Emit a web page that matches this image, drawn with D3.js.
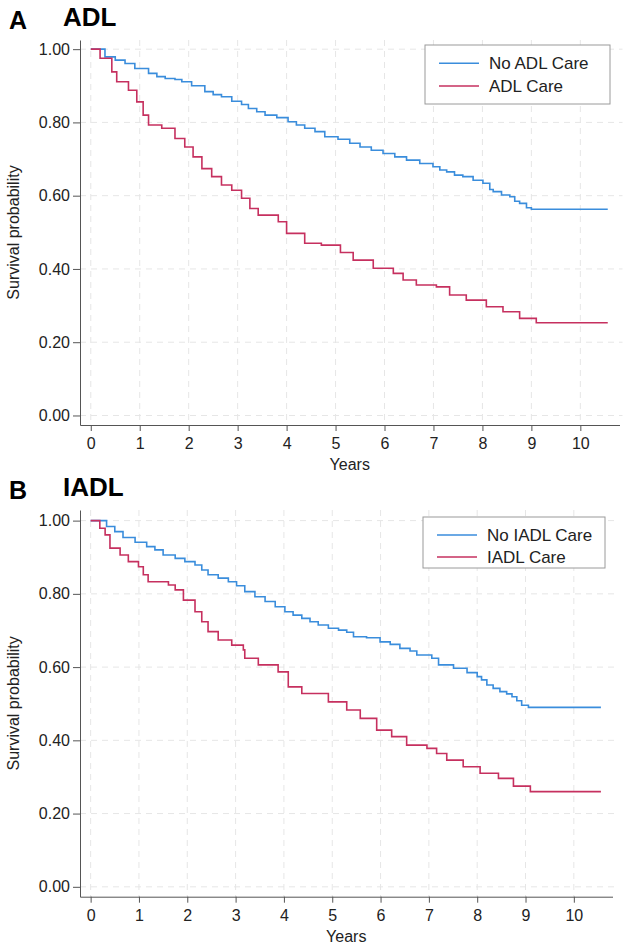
<!DOCTYPE html>
<html>
<head>
<meta charset="utf-8">
<script src="https://cdn.jsdelivr.net/npm/d3@7"></script>
<style>
  body { margin: 0; background: #fff; }
  svg { font-family: "Liberation Sans", Arial, sans-serif; }
  .grid line { stroke: #e6e6e6; stroke-dasharray: 6 5; stroke-width: 1; }
  .axis .domain, .axis line { stroke: #555; }
  .axis text { fill: #222; font-size: 16px; }
  .axisTitle { fill: #222; font-size: 16px; }
  .legText { fill: #222; font-size: 17px; }
</style>
</head>
<body>
<div id="chart"></div>
<script>
/* global d3 */

// Kaplan-Meier steps: [years, survival]
const adlNoCare = [
  [0, 1], [0.29, 0.979], [0.5, 0.97], [0.7, 0.961], [0.9, 0.947], [1.18, 0.934],
  [1.35, 0.925], [1.52, 0.92], [1.72, 0.917], [1.86, 0.911], [2.06, 0.9],
  [2.33, 0.884], [2.5, 0.876], [2.67, 0.87], [2.88, 0.858], [3.08, 0.849],
  [3.22, 0.838], [3.39, 0.829], [3.56, 0.82], [3.8, 0.813], [4.03, 0.802],
  [4.2, 0.793], [4.37, 0.784], [4.58, 0.775], [4.78, 0.761], [5.05, 0.754],
  [5.29, 0.743], [5.5, 0.733], [5.73, 0.724], [5.97, 0.715], [6.21, 0.706],
  [6.45, 0.697], [6.72, 0.688], [6.99, 0.679], [7.13, 0.67], [7.27, 0.665],
  [7.43, 0.656], [7.6, 0.652], [7.81, 0.642], [8.01, 0.634], [8.15, 0.617],
  [8.22, 0.611], [8.39, 0.602], [8.56, 0.597], [8.66, 0.585], [8.76, 0.579],
  [8.9, 0.567], [9.0, 0.563], [10.56, 0.563]
]
const adlCare = [
  [0, 1], [0.19, 0.975], [0.43, 0.938], [0.53, 0.911], [0.77, 0.888], [0.94, 0.856],
  [1.07, 0.82], [1.18, 0.793], [1.45, 0.784], [1.72, 0.756], [1.92, 0.733],
  [2.09, 0.706], [2.27, 0.674], [2.47, 0.652], [2.67, 0.629], [2.88, 0.615],
  [3.08, 0.593], [3.25, 0.565], [3.42, 0.547], [3.83, 0.529], [4.0, 0.497],
  [4.37, 0.47], [4.71, 0.465], [5.1, 0.445], [5.36, 0.424], [5.77, 0.402],
  [6.18, 0.388], [6.38, 0.37], [6.65, 0.356], [7.06, 0.351], [7.33, 0.329],
  [7.67, 0.315], [8.08, 0.297], [8.42, 0.283], [8.76, 0.265], [9.1, 0.253], [10.56, 0.253]
]
const iadlNoCare = [
  [0, 1], [0.33, 0.984], [0.5, 0.97], [0.67, 0.954], [0.92, 0.941], [1.16, 0.929],
  [1.33, 0.92], [1.5, 0.906], [1.75, 0.897], [1.95, 0.888], [2.16, 0.879],
  [2.3, 0.865], [2.43, 0.852], [2.64, 0.843], [2.85, 0.833], [3.02, 0.822],
  [3.19, 0.806], [3.4, 0.792], [3.61, 0.779], [3.82, 0.765], [4.02, 0.751],
  [4.19, 0.742], [4.37, 0.733], [4.54, 0.724], [4.71, 0.715], [4.92, 0.706],
  [5.13, 0.701], [5.3, 0.695], [5.44, 0.683], [5.71, 0.68], [5.99, 0.669],
  [6.2, 0.662], [6.4, 0.651], [6.61, 0.644], [6.75, 0.633], [7.06, 0.624],
  [7.2, 0.606], [7.51, 0.597], [7.79, 0.585], [8.0, 0.574], [8.09, 0.565],
  [8.2, 0.551], [8.33, 0.542], [8.47, 0.533], [8.61, 0.527], [8.72, 0.519],
  [8.82, 0.508], [8.92, 0.496], [9.06, 0.49], [10.56, 0.49]
]
const iadlCare = [
  [0, 1], [0.19, 0.979], [0.3, 0.961], [0.4, 0.925], [0.61, 0.906], [0.78, 0.888],
  [0.99, 0.874], [1.09, 0.852], [1.19, 0.833], [1.61, 0.824], [1.75, 0.811],
  [1.92, 0.783], [2.16, 0.751], [2.3, 0.724], [2.43, 0.697], [2.64, 0.674],
  [2.92, 0.66], [3.16, 0.647], [3.19, 0.624], [3.47, 0.606], [3.88, 0.587],
  [4.09, 0.546], [4.37, 0.528], [4.92, 0.505], [5.3, 0.483], [5.58, 0.46],
  [5.92, 0.428], [6.23, 0.41], [6.54, 0.387], [6.96, 0.378], [7.16, 0.364],
  [7.37, 0.346], [7.71, 0.328], [8.06, 0.31], [8.44, 0.296], [8.75, 0.275],
  [9.1, 0.26], [10.56, 0.26]
]

const xTicks = [0, 1, 2, 3, 4, 5, 6, 7, 8, 9, 10]
const yTicks = [0, 0.2, 0.4, 0.6, 0.8, 1.0]

const blue = '#3a8ddc'
const red = '#c6305f'

const panels = [
  { letter: 'A', title: 'ADL', labels: ['No ADL Care', 'ADL Care'], series: [adlNoCare, adlCare],
    top: 40, bottom: 425, right: 619.5, yDomain: [-0.026, 1.025],
    legend: { x: 425, y: 45, w: 185, h: 59 } },
  { letter: 'B', title: 'IADL', labels: ['No IADL Care', 'IADL Care'], series: [iadlNoCare, iadlCare],
    top: 510, bottom: 896.7, right: 612.5, yDomain: [-0.027, 1.029],
    legend: { x: 423, y: 517, w: 182, h: 51 } }
]

const width = 633, height = 947
const svg = d3.select('#chart').append('svg')
  .attr('width', width)
  .attr('height', height)

const makePanel = function(p, i) {
  const left = 80
  const g = svg.append('g')
  const baseY = i === 0 ? 0 : 470

  // panel letter + title
  g.append('text').attr('x', 9).attr('y', baseY + 29)
    .attr('font-size', 25).attr('font-weight', 'bold').text(p.letter)
  g.append('text').attr('x', 63).attr('y', baseY + 26)
    .attr('font-size', 26).attr('font-weight', 'bold').text(p.title)

  const x = d3.scaleLinear().domain([-0.22, 10.8]).range([left, p.right])
  const y = d3.scaleLinear().domain(p.yDomain).range([p.bottom, p.top])

  // dashed grid
  g.append('g').attr('class', 'grid')
    .selectAll('line.v').data(xTicks).join('line')
    .attr('x1', d => x(d)).attr('x2', d => x(d))
    .attr('y1', p.top).attr('y2', p.bottom)
  g.append('g').attr('class', 'grid')
    .selectAll('line.h').data(yTicks).join('line')
    .attr('x1', left).attr('x2', p.right + 3)
    .attr('y1', d => y(d)).attr('y2', d => y(d))

  // axes
  g.append('g').attr('class', 'axis')
    .attr('transform', `translate(${left},0)`)
    .call(d3.axisLeft(y).tickValues(yTicks).tickFormat(d3.format('.2f'))
      .tickSize(7).tickSizeOuter(0).tickPadding(3))
  g.append('g').attr('class', 'axis')
    .attr('transform', `translate(0,${p.bottom})`)
    .call(d3.axisBottom(x).tickValues(xTicks).tickFormat(d3.format('d'))
      .tickSize(6).tickSizeOuter(0).tickPadding(7))

  g.append('text').attr('class', 'axisTitle')
    .attr('x', (left + p.right) / 2).attr('y', p.bottom + 45)
    .attr('text-anchor', 'middle').text('Years')
  g.append('text').attr('class', 'axisTitle')
    .attr('transform', `translate(19,${(p.top + p.bottom) / 2}) rotate(-90)`)
    .attr('text-anchor', 'middle').text('Survival probability')

  // survival curves
  const line = d3.line()
    .x(d => x(d[0]))
    .y(d => y(d[1]))
    .curve(d3.curveStepAfter)

  g.selectAll('path.km').data(p.series).join('path')
    .attr('class', 'km')
    .attr('fill', 'none')
    .attr('stroke', (d, j) => j === 0 ? blue : red)
    .attr('stroke-width', 1.6)
    .attr('d', line)

  // legend
  const L = p.legend
  const leg = g.append('g').attr('transform', `translate(${L.x},${L.y})`)
  leg.append('rect').attr('width', L.w).attr('height', L.h)
    .attr('fill', '#fff').attr('stroke', '#9a9a9a')
  const rowH = i === 0 ? 22.7 : 22
  const row0 = i === 0 ? 18.3 : 18
  p.labels.forEach((lab, j) => {
    const yy = row0 + j * rowH
    leg.append('line').attr('x1', 14).attr('x2', 54).attr('y1', yy).attr('y2', yy)
      .attr('stroke', j === 0 ? blue : red).attr('stroke-width', 1.6)
    leg.append('text').attr('class', 'legText')
      .attr('x', 64).attr('y', yy + 6).text(lab)
  })
}

panels.forEach(makePanel)
</script>
</body>
</html>
